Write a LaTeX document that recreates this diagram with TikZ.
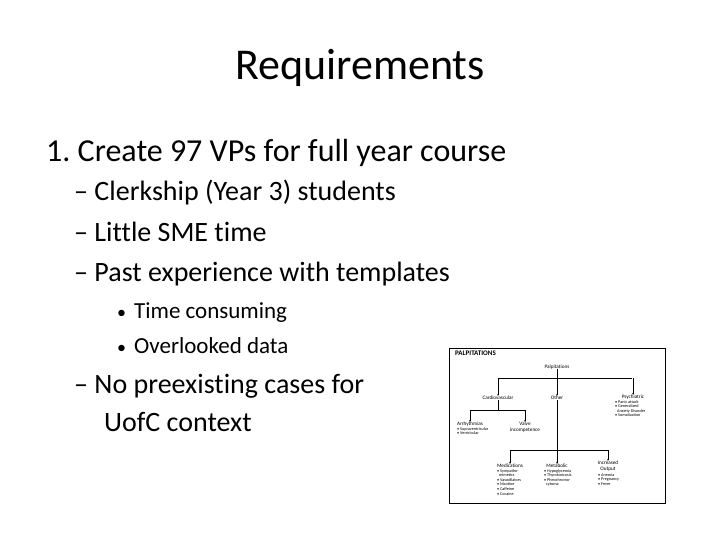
\documentclass[tikz,border=0pt]{standalone}
\usepackage{fontspec}
\setmainfont{Carlito}[Ligatures=NoCommon]
\usetikzlibrary{arrows.meta}
\begin{document}
\begin{tikzpicture}[x=1pt,y=-1pt,
  body/.style={anchor=base west,inner sep=0pt},
  tiny/.style={font=\fontsize{4.2}{4.6}\selectfont,inner sep=0pt,align=left},
  lbl/.style={font=\fontsize{5.2}{5.6}\selectfont,inner sep=0pt,align=center},
  ln/.style={draw=black,line width=0.5pt},
  ar/.style={ln,-{Stealth[length=2pt,width=1.5pt]}}]
\useasboundingbox (0,0) rectangle (720,540);
\node[inner sep=0pt,font=\fontsize{44}{48}\selectfont] (title) at (360,68) {Requirements};
\node[body,font=\fontsize{32}{36}\selectfont] (l1) at (46,162) {1.\ Create 97 VPs for full year course};
\begin{scope}[every node/.style={body,font=\fontsize{28}{32}\selectfont}]
\node (l2) at (74,201) {– Clerkship (Year 3) students};
\node (l3) at (74,241) {– Little SME time};
\node (l4) at (74,281) {– Past experience with templates};
\node (l7) at (74,393) {– No preexisting cases for};
\node (l8) at (104,431) {UofC context};
\end{scope}
\begin{scope}[every node/.style={body,font=\fontsize{23}{26}\selectfont}]
\node (l5) at (117,318) {{\fontsize{18}{20}\selectfont•}\hspace{8pt}Time consuming};
\node (l6) at (117,353) {{\fontsize{18}{20}\selectfont•}\hspace{8pt}Overlooked data};
\end{scope}
% mini chart
\node[draw,line width=0.8pt,minimum width=216pt,minimum height=155pt,anchor=north west] (box) at (449,348) {};
\node[anchor=west,inner sep=0pt,font=\bfseries\fontsize{7}{8}\selectfont] (pt) at (455,353) {PALPITATIONS};
\node[lbl] (pal) at (557,367) {Palpitations};
\node[lbl] (cv) at (498,398) {Cardiovascular};
\node[lbl] (oth) at (557,398) {Other};
\node[lbl,anchor=north] (psy) at (633,395) {Psychiatric};
\node[tiny,anchor=north west] (psyl) at (615,400) {• Panic attack\\• Generalized\\\ \ Anxiety Disorder\\• Somatization};
\node[lbl,anchor=north] (arr) at (470,422) {Arrhythmias};
\node[tiny,anchor=north west] (arrl) at (457,427) {• Supraventricular\\• Ventricular};
\node[lbl,anchor=north] (val) at (525,422) {Valve\\incompetence};
\node[lbl,anchor=north] (med) at (510,464) {Medications};
\node[tiny,anchor=north west] (medl) at (497,469) {• Sympatho-\\\ \ mimetics\\• Vasodilators\\• Nicotine\\• Caffeine\\• Cocaine};
\node[lbl,anchor=north] (met) at (557,464) {Metabolic};
\node[tiny,anchor=north west] (metl) at (544,469) {• Hypoglycemia\\• Thyrotoxicosis\\• Pheochromo-\\\ \ cytoma};
\node[lbl,anchor=north] (inc) at (608,461) {Increased\\Output};
\node[tiny,anchor=north west] (incl) at (598,473) {• Anemia\\• Pregnancy\\• Fever};
\coordinate (j1) at (557,378);
\draw[ln] (pal) -- (j1);
\draw[ln] (498,378) -- (632,378);
\draw[ar] (498,378) -- (cv);
\draw[ar] (j1) -- (oth);
\draw[ar] (633,378) -- (psy);
\coordinate (j2) at (498,410);
\draw[ln] (cv) -- (j2);
\draw[ln] (470,410) -- (525,410);
\draw[ar] (470,410) -- (arr);
\draw[ar] (525,410) -- (val);
\coordinate (j3) at (557,450);
\draw[ln] (oth) -- (j3);
\draw[ln] (510,450) -- (608,450);
\draw[ar] (510,450) -- (med);
\draw[ar] (j3) -- (met);
\draw[ar] (608,450) -- (inc);
\end{tikzpicture}
\end{document}
